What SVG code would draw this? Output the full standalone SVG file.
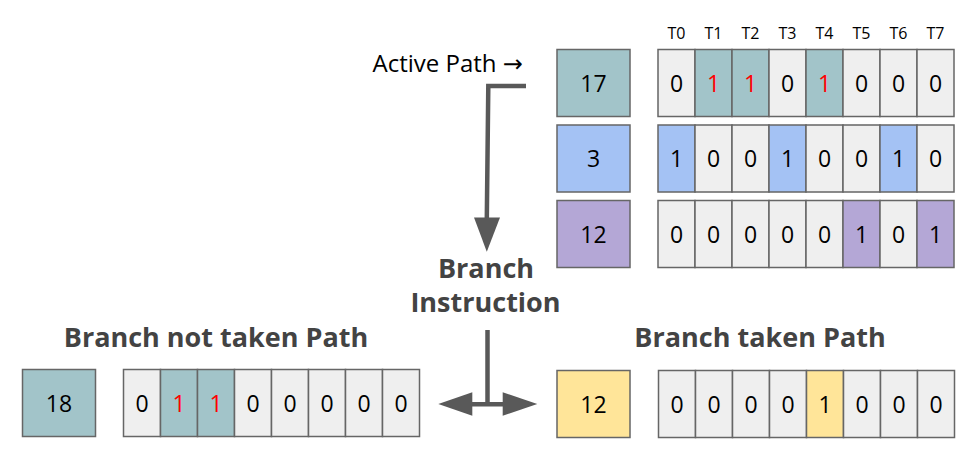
<svg xmlns="http://www.w3.org/2000/svg" width="975" height="456" viewBox="0 0 975 456">
<style>
.c{stroke:#666666;stroke-width:1.5}
.g{fill:#efefef}
.teal{fill:#a2c4c9}
.blue{fill:#a4c2f4}
.purp{fill:#b4a7d6}
.yel{fill:#ffe599}
.t{font-family:"Open Sans","DejaVu Sans",sans-serif;font-size:23px;fill:#000;text-anchor:middle}
.r{fill:#ff0000}
.h{font-family:"Open Sans","DejaVu Sans",sans-serif;font-size:16px;fill:#000;text-anchor:middle}
.b{font-family:"Open Sans","DejaVu Sans",sans-serif;font-size:27px;font-weight:bold;fill:#434343;text-anchor:middle}
.ln{stroke:#595959;stroke-width:4.5;fill:none}
.ah{fill:#595959}
</style>
<rect width="975" height="456" fill="#ffffff"/>

<g id="headers">
<text class="h" x="676.5" y="39">T0</text>
<text class="h" x="713.5" y="39">T1</text>
<text class="h" x="750.5" y="39">T2</text>
<text class="h" x="787.5" y="39">T3</text>
<text class="h" x="824.5" y="39">T4</text>
<text class="h" x="861.5" y="39">T5</text>
<text class="h" x="898.5" y="39">T6</text>
<text class="h" x="935.5" y="39">T7</text>
</g>

<g id="active-label">
<text x="372.5" y="72" style="font-family:'Open Sans','DejaVu Sans',sans-serif;font-size:24px;fill:#000">Active Path →</text>
</g>

<g id="node-17">
<rect class="c teal" x="557" y="49.5" width="73" height="67"/>
<text class="t" x="593.5" y="91.5">17</text>
</g>
<g id="row-17">
<rect class="c g" x="658" y="49.5" width="37" height="67"/>
<rect class="c teal" x="695" y="49.5" width="37" height="67"/>
<rect class="c teal" x="732" y="49.5" width="37" height="67"/>
<rect class="c g" x="769" y="49.5" width="37" height="67"/>
<rect class="c teal" x="806" y="49.5" width="37" height="67"/>
<rect class="c g" x="843" y="49.5" width="37" height="67"/>
<rect class="c g" x="880" y="49.5" width="37" height="67"/>
<rect class="c g" x="917" y="49.5" width="37" height="67"/>
<text class="t" x="676.5" y="91.5">0</text>
<text class="t r" x="713.5" y="91.5">1</text>
<text class="t r" x="750.5" y="91.5">1</text>
<text class="t" x="787.5" y="91.5">0</text>
<text class="t r" x="824.5" y="91.5">1</text>
<text class="t" x="861.5" y="91.5">0</text>
<text class="t" x="898.5" y="91.5">0</text>
<text class="t" x="935.5" y="91.5">0</text>
</g>

<g id="node-3">
<rect class="c blue" x="557" y="125" width="73" height="67"/>
<text class="t" x="593.5" y="167">3</text>
</g>
<g id="row-3">
<rect class="c blue" x="658" y="125" width="37" height="67"/>
<rect class="c g" x="695" y="125" width="37" height="67"/>
<rect class="c g" x="732" y="125" width="37" height="67"/>
<rect class="c blue" x="769" y="125" width="37" height="67"/>
<rect class="c g" x="806" y="125" width="37" height="67"/>
<rect class="c g" x="843" y="125" width="37" height="67"/>
<rect class="c blue" x="880" y="125" width="37" height="67"/>
<rect class="c g" x="917" y="125" width="37" height="67"/>
<text class="t" x="676.5" y="167">1</text>
<text class="t" x="713.5" y="167">0</text>
<text class="t" x="750.5" y="167">0</text>
<text class="t" x="787.5" y="167">1</text>
<text class="t" x="824.5" y="167">0</text>
<text class="t" x="861.5" y="167">0</text>
<text class="t" x="898.5" y="167">1</text>
<text class="t" x="935.5" y="167">0</text>
</g>

<g id="node-12">
<rect class="c purp" x="557" y="200.5" width="73" height="67"/>
<text class="t" x="593.5" y="242.5">12</text>
</g>
<g id="row-12">
<rect class="c g" x="658" y="200.5" width="37" height="67"/>
<rect class="c g" x="695" y="200.5" width="37" height="67"/>
<rect class="c g" x="732" y="200.5" width="37" height="67"/>
<rect class="c g" x="769" y="200.5" width="37" height="67"/>
<rect class="c g" x="806" y="200.5" width="37" height="67"/>
<rect class="c purp" x="843" y="200.5" width="37" height="67"/>
<rect class="c g" x="880" y="200.5" width="37" height="67"/>
<rect class="c purp" x="917" y="200.5" width="37" height="67"/>
<text class="t" x="676.5" y="242.5">0</text>
<text class="t" x="713.5" y="242.5">0</text>
<text class="t" x="750.5" y="242.5">0</text>
<text class="t" x="787.5" y="242.5">0</text>
<text class="t" x="824.5" y="242.5">0</text>
<text class="t" x="861.5" y="242.5">1</text>
<text class="t" x="898.5" y="242.5">0</text>
<text class="t" x="935.5" y="242.5">1</text>
</g>

<g id="branch-instruction">
<text class="b" x="486" y="278">Branch</text>
<text class="b" x="485.5" y="311.5">Instruction</text>
</g>

<g id="not-taken">
<text class="b" x="216" y="346.5">Branch not taken Path</text>
<rect class="c teal" x="22.5" y="369.5" width="73" height="67"/>
<text class="t" x="59" y="411.5">18</text>
<rect class="c g" x="123.5" y="369.5" width="37" height="67"/>
<rect class="c teal" x="160.5" y="369.5" width="37" height="67"/>
<rect class="c teal" x="197.5" y="369.5" width="37" height="67"/>
<rect class="c g" x="234.5" y="369.5" width="37" height="67"/>
<rect class="c g" x="271.5" y="369.5" width="37" height="67"/>
<rect class="c g" x="308.5" y="369.5" width="37" height="67"/>
<rect class="c g" x="345.5" y="369.5" width="37" height="67"/>
<rect class="c g" x="382.5" y="369.5" width="37" height="67"/>
<text class="t" x="142" y="411.5">0</text>
<text class="t r" x="179" y="411.5">1</text>
<text class="t r" x="216" y="411.5">1</text>
<text class="t" x="253" y="411.5">0</text>
<text class="t" x="290" y="411.5">0</text>
<text class="t" x="327" y="411.5">0</text>
<text class="t" x="364" y="411.5">0</text>
<text class="t" x="401" y="411.5">0</text>
</g>

<g id="taken">
<text class="b" x="760" y="346.5">Branch taken Path</text>
<rect class="c yel" x="557" y="370.5" width="73" height="67"/>
<text class="t" x="593.5" y="412.5">12</text>
<rect class="c g" x="658.5" y="370.5" width="37" height="67"/>
<rect class="c g" x="695.5" y="370.5" width="37" height="67"/>
<rect class="c g" x="732.5" y="370.5" width="37" height="67"/>
<rect class="c g" x="769.5" y="370.5" width="37" height="67"/>
<rect class="c yel" x="806.5" y="370.5" width="37" height="67"/>
<rect class="c g" x="843.5" y="370.5" width="37" height="67"/>
<rect class="c g" x="880.5" y="370.5" width="37" height="67"/>
<rect class="c g" x="917.5" y="370.5" width="37" height="67"/>
<text class="t" x="677" y="412.5">0</text>
<text class="t" x="714" y="412.5">0</text>
<text class="t" x="751" y="412.5">0</text>
<text class="t" x="788" y="412.5">0</text>
<text class="t" x="825" y="412.5">1</text>
<text class="t" x="862" y="412.5">0</text>
<text class="t" x="899" y="412.5">0</text>
<text class="t" x="936" y="412.5">0</text>
</g>

<g id="connectors">
<path class="ln" d="M526,86 H488.3 L486.8,219"/>
<polygon class="ah" points="474,217.5 500,217.5 486.8,251.7"/>
<path class="ln" d="M487.5,330 V404.2 M471,404.2 H504"/>
<polygon class="ah" points="438.3,404 472.3,392.3 472.3,415.7"/>
<polygon class="ah" points="537.3,404 502.7,392.3 502.7,415.7"/>
</g>
</svg>
